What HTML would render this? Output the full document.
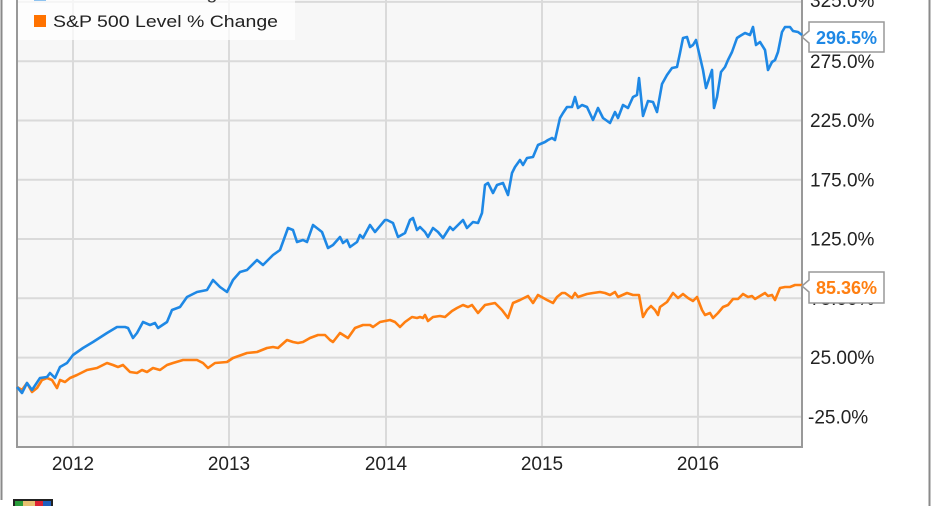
<!DOCTYPE html>
<html><head><meta charset="utf-8"><style>
html,body{margin:0;padding:0;background:#fff;}
svg{display:block;}
text{font-family:"Liberation Sans",Arial,sans-serif;}
</style></head><body>
<svg width="931" height="506" viewBox="0 0 931 506" xmlns="http://www.w3.org/2000/svg">
<rect x="0" y="0" width="931" height="506" fill="#fff"/>
<line x1="1.5" y1="0" x2="1.5" y2="500" stroke="#8a8a8a" stroke-width="2"/>
<line x1="929.5" y1="0" x2="929.5" y2="506" stroke="#8a8a8a" stroke-width="2"/>
<!-- plot area -->
<rect x="17" y="0" width="785" height="447" fill="#f7f7f7"/>
<g stroke="#dadada" stroke-width="2">
<line x1="73" y1="0" x2="73" y2="447"/>
<line x1="229" y1="0" x2="229" y2="447"/>
<line x1="386" y1="0" x2="386" y2="447"/>
<line x1="542" y1="0" x2="542" y2="447"/>
<line x1="698" y1="0" x2="698" y2="447"/>
<line x1="17" y1="1.9" x2="802" y2="1.9"/>
<line x1="17" y1="61.2" x2="802" y2="61.2"/>
<line x1="17" y1="120.5" x2="802" y2="120.5"/>
<line x1="17" y1="179.7" x2="802" y2="179.7"/>
<line x1="17" y1="239" x2="802" y2="239"/>
<line x1="17" y1="298.3" x2="802" y2="298.3"/>
<line x1="17" y1="357.6" x2="802" y2="357.6"/>
<line x1="17" y1="416.8" x2="802" y2="416.8"/>
</g>
<!-- axes border -->
<polyline points="17,0 17,447 802,447 802,0" fill="none" stroke="#999" stroke-width="2"/>
<!-- series -->
<polyline fill="none" stroke="#ff7f11" stroke-width="2.6" stroke-linejoin="round" points="17,387 22,390 27,383 32,392 37,388 42,380 47,378 52,380 57,388 60,380 65,382 70,378 77,375 87,370 97,368 107,363 113,365 118,367 123,365 130,372 137,373 142,370 147,372 153,368 160,370 167,365 173,363 183,360 192,360 197,360 203,363 208,368 215,363 227,362 233,358 247,353 257,352 267,348 273,347 278,348 287,340 293,342 298,343 303,342 310,338 318,335 325,335 330,340 333,342 340,333 348,338 355,328 363,325 370,325 373,327 380,322 390,320 395,322 400,327 405,322 412,317 417,318 420,317 423,318 425,315 428,321 433,317 440,316 445,317 452,311 457,308 463,305 468,307 472,305 478,313 485,305 495,303 502,310 508,318 513,303 520,300 528,296 533,303 538,295 547,300 553,303 557,297 562,293 565,293 572,298 575,293 578,297 587,294 593,293 600,292 605,293 610,295 615,292 618,297 627,293 633,295 639,295 643,317 647,310 651,306 655,310 658,315 660,307 667,302 673,293 678,298 683,294 688,298 693,301 697,297 702,310 705,315 710,313 713,318 718,313 723,307 728,305 733,299 738,299 743,294 748,297 752,296 755,299 760,296 765,293 768,296 772,295 775,300 780,288 785,287 790,287 795,285 802,285"/>
<polyline fill="none" stroke="#1e88e5" stroke-width="2.6" stroke-linejoin="round" points="17,387 22,393 27,383 32,390 40,378 47,377 50,373 55,378 60,367 67,363 73,355 83,348 93,342 107,333 117,327 125,327 128,328 133,338 137,333 143,322 150,325 155,323 158,328 167,322 172,310 180,307 187,297 197,292 207,290 213,280 220,287 227,292 233,280 240,272 247,270 257,260 263,265 273,255 280,250 288,228 293,230 297,242 303,240 307,242 313,225 322,232 328,248 333,245 340,237 343,243 347,240 350,247 357,242 360,235 363,238 370,225 375,232 385,220 387,220 393,223 398,237 405,233 410,220 413,218 417,230 420,227 425,232 428,237 433,228 438,232 443,238 450,227 453,230 458,225 463,220 467,228 473,222 478,223 482,213 485,185 488,183 493,193 497,185 503,183 508,195 512,173 515,167 520,160 523,165 527,158 533,157 538,145 545,142 548,140 552,138 555,140 560,118 563,113 567,107 572,107 575,97 578,108 582,105 587,107 593,120 598,108 603,118 610,123 615,112 618,118 623,105 628,108 633,97 637,95 639,78 643,116 648,101 653,102 657,112 662,84 667,75 672,68 677,67 680,53 683,38 687,37 690,47 693,45 696,40 700,57 703,70 706,88 712,70 714,108 717,97 721,72 725,67 728,60 732,52 737,38 740,36 745,33 750,35 753,27 756,45 760,42 765,50 768,70 772,62 775,60 778,52 782,32 785,27 790,27 793,31 798,32 802,35"/>
<!-- legend -->
<rect x="18" y="0" width="277" height="40" fill="#fff" fill-opacity="0.72"/>
<rect x="34" y="-11" width="12" height="12" fill="#8fc3f0"/>
<text x="53" y="-1" font-size="17" fill="#333" textLength="175" lengthAdjust="spacingAndGlyphs">MU Price % Change</text>
<rect x="34" y="15" width="12" height="12" fill="#ff7200"/>
<text x="53" y="27" font-size="17" fill="#222" textLength="225" lengthAdjust="spacingAndGlyphs">S&amp;P 500 Level % Change</text>
<!-- y axis labels -->
<g font-size="19" fill="#222">
<text x="810" y="7">325.0%</text>
<text x="810" y="67.8">275.0%</text>
<text x="810" y="127">225.0%</text>
<text x="810" y="186.3">175.0%</text>
<text x="810" y="245.6">125.0%</text>
<text x="810" y="304.9">75.00%</text>
<text x="810" y="364.2">25.00%</text>
<text x="808" y="423.4">-25.0%</text>
</g>
<!-- x axis labels -->
<g font-size="19" fill="#222" text-anchor="middle">
<text x="73" y="470">2012</text>
<text x="229" y="470">2013</text>
<text x="386" y="470">2014</text>
<text x="542" y="470">2015</text>
<text x="698" y="470">2016</text>
</g>
<!-- callouts -->
<path d="M802,37 L809,31 L809,22 L884,22 L884,52 L809,52 L809,43 Z" fill="#fff" stroke="#999" stroke-width="1.5"/>
<text x="846.5" y="44" font-size="18" font-weight="bold" fill="#1e88e5" text-anchor="middle">296.5%</text>
<path d="M802,286 L809,280 L809,272 L884,272 L884,303 L809,303 L809,292 Z" fill="#fff" stroke="#999" stroke-width="1.5"/>
<text x="846.5" y="294" font-size="18" font-weight="bold" fill="#ff7f11" text-anchor="middle">85.36%</text>
<!-- logo -->
<rect x="13" y="499" width="40" height="8" fill="#222"/>
<rect x="15" y="501" width="8" height="5" fill="#2a9d3a"/>
<rect x="23" y="501" width="12" height="5" fill="#e8c070"/>
<rect x="35" y="501" width="8" height="5" fill="#d23"/>
<rect x="43" y="501" width="8" height="5" fill="#1f5fbf"/>
</svg>
</body></html>
